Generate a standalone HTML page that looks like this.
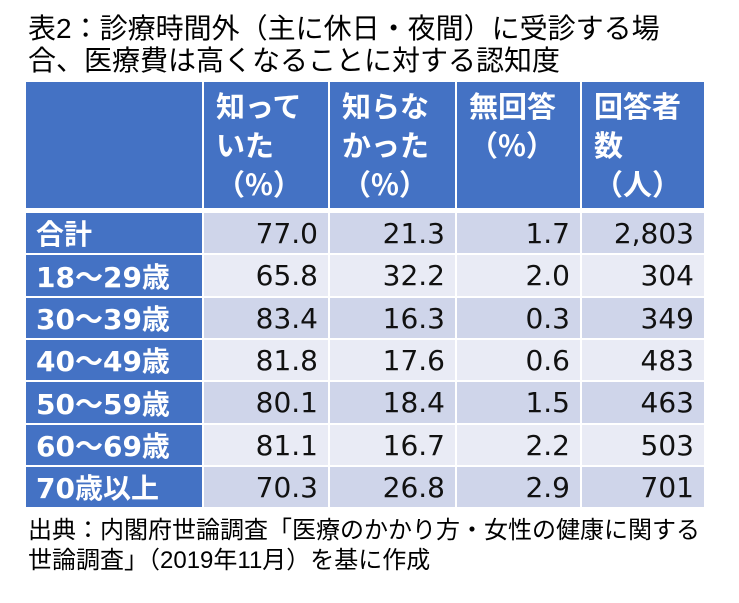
<!DOCTYPE html>
<html><head><meta charset="utf-8">
<style>
body{margin:0;width:739px;height:603px;background:#fff;position:relative;overflow:hidden;font-family:"Liberation Sans","Noto Sans CJK JP",sans-serif;}
.t{position:absolute;left:28px;font-size:28px;line-height:32px;color:#000;white-space:nowrap;}
.f{position:absolute;left:28px;font-size:24px;line-height:30px;color:#000;white-space:nowrap;}
.c{position:absolute;box-sizing:border-box;}
.h{background:#4472C4;color:#fff;font-weight:bold;font-size:29px;line-height:39px;padding:4px 0 0 12px;font-family:"Noto Sans CJK JP",sans-serif;}
.l{background:#4472C4;color:#fff;font-weight:bold;font-size:28px;padding-left:10px;display:flex;align-items:center;font-family:"DejaVu Sans","Noto Sans CJK JP",sans-serif;}
.d{font-size:28px;font-family:"DejaVu Sans",sans-serif;text-align:right;padding-right:10px;display:flex;align-items:center;justify-content:flex-end;color:#111;}
.dk{background:#CFD5EA}.lt{background:#E9EBF5}
</style></head><body>
<div class="t" style="top:13px">表2：診療時間外（主に休日・夜間）に受診する場</div>
<div class="t" style="top:45px">合、医療費は高くなることに対する認知度</div>
<div id="tbl"></div>
<div class="f" style="top:516px">出典：内閣府世論調査「医療のかかり方・女性の健康に関する</div>
<div class="f" style="top:546px">世論調査」（2019年11月）を基に作成</div>
<script>
const headers=["","知って<br>いた<br>（%）","知らな<br>かった<br>（%）","無回答<br>（%）","回答者<br>数<br>（人）"];
const rowLabels=["合計","18～29歳","30～39歳","40～49歳","50～59歳","60～69歳","70歳以上"];
const knew=["77.0","65.8","83.4","81.8","80.1","81.1","70.3"];
const notKnew=["21.3","32.2","16.3","17.6","18.4","16.7","26.8"];
const noAnswer=["1.7","2.0","0.3","0.6","1.5","2.2","2.9"];
const respondents=["2,803","304","349","483","463","503","701"];
const xs=[26,204,330,457,582,706];
const tbl=document.getElementById('tbl');
function cell(cls,x0,x1,y0,y1,html,name){
  const d=document.createElement('div');
  d.className='c '+cls;
  d.style.left=x0+'px';d.style.width=(x1-x0)+'px';d.style.top=y0+'px';d.style.height=(y1-y0)+'px';
  d.innerHTML=html;
  
  
  tbl.appendChild(d);
}
for(let c=0;c<5;c++){
  cell('h',xs[c],xs[c+1]-2,82,208,headers[c],'header-cell');
}
const cols=[knew,notKnew,noAnswer,respondents];
const top0=213,rh=42.3;
for(let r=0;r<rowLabels.length;r++){
  const y0=Math.round(top0+r*rh),y1=Math.round(top0+(r+1)*rh)-2;
  cell('l',xs[0],xs[1]-2,y0,y1,rowLabels[r],'row-label');
  for(let c=0;c<4;c++){
    cell('d '+(r%2?'lt':'dk'),xs[c+1],xs[c+2]-2,y0,y1,cols[c][r],'data-cell');
  }
}
</script>
</body></html>
